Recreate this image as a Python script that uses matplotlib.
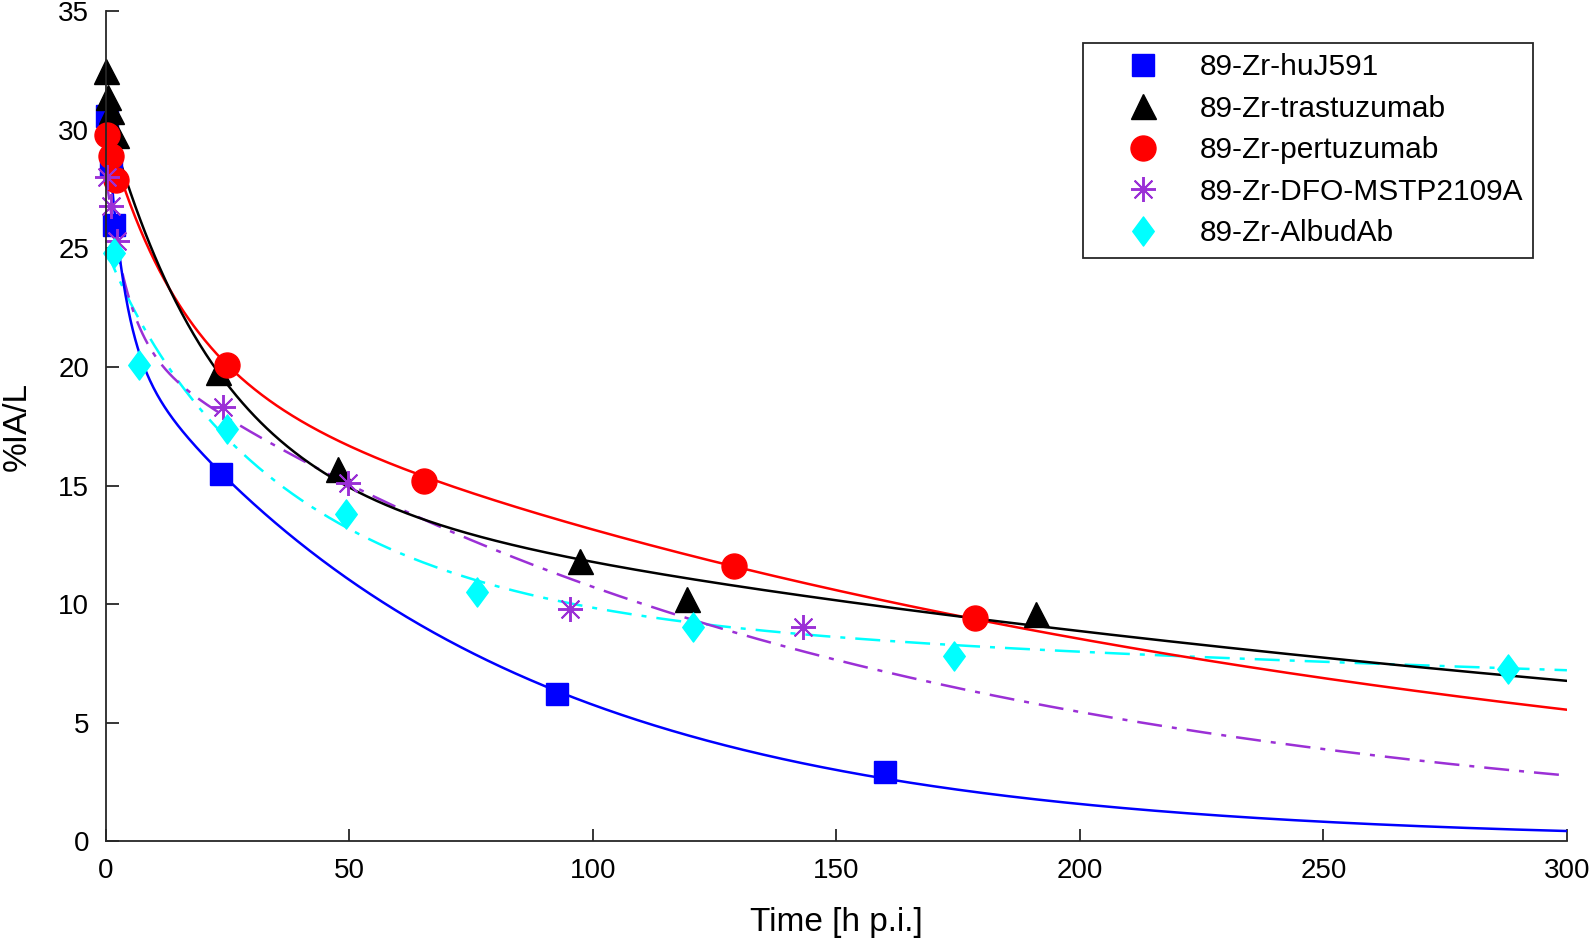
import numpy as np
import matplotlib
matplotlib.use("Agg")
import matplotlib.pyplot as plt
from matplotlib.path import Path

plt.rcParams['font.family'] = ['Liberation Sans', 'DejaVu Sans']

# measured points (time in h p.i., %IA/L)
t_huJ591 = [0.25, 1.0, 1.7, 23.6, 92.6, 160.0]
y_huJ591 = [30.6, 28.5, 26.0, 15.5, 6.2, 2.9]
t_tras = [0.1, 0.4, 1.0, 2.0, 23.0, 47.6, 97.4, 119.3, 190.9]
y_tras = [32.5, 31.4, 30.8, 29.8, 19.8, 15.7, 11.8, 10.2, 9.6]
t_pert = [0.25, 1.0, 2.0, 24.8, 65.3, 128.9, 178.4]
y_pert = [29.8, 28.9, 27.9, 20.1, 15.2, 11.6, 9.4]
t_mstp = [0.25, 1.0, 2.3, 24.0, 49.6, 95.3, 143.1]
y_mstp = [28.0, 26.8, 25.3, 18.3, 15.1, 9.8, 9.05]
t_albu = [1.7, 6.7, 24.8, 49.2, 76.1, 120.6, 174.2, 288.0]
y_albu = [24.8, 20.1, 17.4, 13.8, 10.5, 9.05, 7.8, 7.25]

# multi-exponential fit parameters: amplitudes and rate constants (1/h)
amp_huJ591, k_huJ591 = [10.0, 21.1], [0.30, 0.013]
amp_tras, k_tras = [15.5, 15.2], [0.045, 0.0027]
amp_pert, k_pert = [9.8, 20.2], [0.065, 0.00431]
amp_mstp, k_mstp = [7.0, 21.1], [0.22, 0.00677]
amp_albu, k_albu = [1.5, 14.0, 9.46], [0.10, 0.0245, 0.00091]

labels = ['89-Zr-huJ591', '89-Zr-trastuzumab', '89-Zr-pertuzumab',
          '89-Zr-DFO-MSTP2109A', '89-Zr-AlbudAb']


def fit_curve(t, amps, ks):
    return sum(a * np.exp(-k * t) for a, k in zip(amps, ks))


purple = '#9b30d6'
diamond = Path([(0, 1.15), (0.85, 0), (0, -1.15), (-0.85, 0), (0, 1.15)],
               [Path.MOVETO, Path.LINETO, Path.LINETO, Path.LINETO, Path.CLOSEPOLY])

fig = plt.figure(figsize=(15.94, 9.43), dpi=100)
ax = fig.add_axes([0.0665, 0.108, 0.9165, 0.88])

tt = np.linspace(0, 300, 1200)
ax.plot(tt, fit_curve(tt, amp_albu, k_albu), color='#00ffff', lw=1.8, ls='-.', dashes=(10, 4, 2, 4))
ax.plot(tt, fit_curve(tt, amp_mstp, k_mstp), color=purple, lw=1.8, ls='-.', dashes=(10, 4, 2, 4))
ax.plot(tt, fit_curve(tt, amp_pert, k_pert), color='#ff0000', lw=1.8)
ax.plot(tt, fit_curve(tt, amp_tras, k_tras), color='black', lw=1.8)
ax.plot(tt, fit_curve(tt, amp_huJ591, k_huJ591), color='#0000ff', lw=1.8)

ax.plot(t_huJ591, y_huJ591, ls='none', marker='s', ms=16, color='#0000ff', label=labels[0], clip_on=False)
ax.plot(t_tras, y_tras, ls='none', marker='^', ms=18, color='black', label=labels[1], clip_on=False)
ax.plot(t_pert, y_pert, ls='none', marker='o', ms=18, color='#ff0000', label=labels[2], clip_on=False)
ax.plot(t_mstp, y_mstp, ls='none', marker=(8, 2, 0), ms=18, mew=1.4, color=purple, label=labels[3], clip_on=False)
ax.plot(t_albu, y_albu, ls='none', marker=diamond, ms=21, color='#00ffff', label=labels[4], clip_on=False)

ax.set_xlim(0, 300)
ax.set_ylim(0, 35)
ax.set_xticks(np.arange(0, 301, 50))
ax.set_yticks(np.arange(0, 36, 5))
for side in ['top', 'right']:
    ax.spines[side].set_visible(False)
for side in ['left', 'bottom']:
    ax.spines[side].set_color('#262626')
    ax.spines[side].set_linewidth(1.3)
ax.tick_params(direction='in', length=9, width=1.3, color='#262626', labelsize=20, pad=12)

ax.set_xlabel('Time [h p.i.]', fontsize=24)
ax.set_ylabel('%IA/L', fontsize=24)
ax.xaxis.set_label_coords(0.5, -0.079)
ax.yaxis.set_label_coords(-0.05, 0.5)

leg = ax.legend(loc='upper right', bbox_to_anchor=(0.977, 0.962), fontsize=21.5,
                frameon=True, fancybox=False, edgecolor='#262626', framealpha=1,
                borderpad=0.35, labelspacing=0.45, handlelength=3.3, handletextpad=0.25,
                borderaxespad=0)
leg.get_frame().set_linewidth(1.3)

fig.savefig('out.png', dpi=100)
